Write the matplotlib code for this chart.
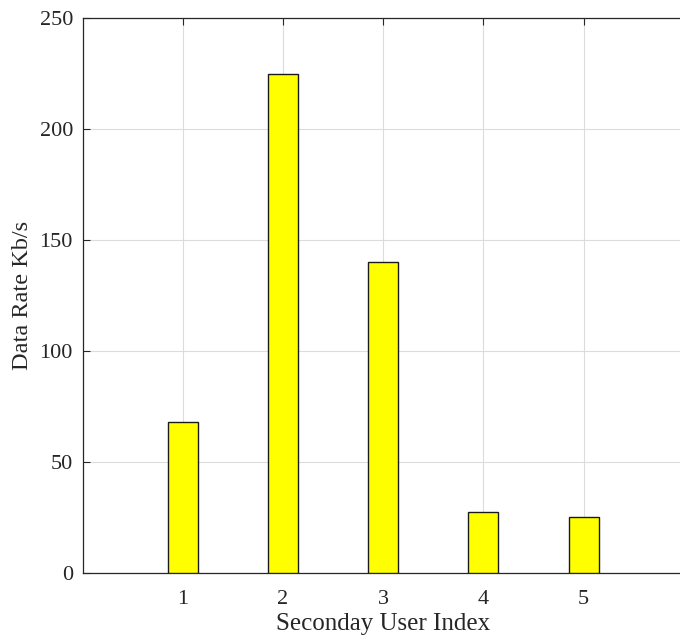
import matplotlib
matplotlib.use('Agg')
import matplotlib.pyplot as plt
import numpy as np

users = [1, 2, 3, 4, 5]
rates = [68, 225, 140, 27.5, 25]
yticks = [0, 50, 100, 150, 200, 250]

plt.rcParams['font.family'] = ['Liberation Serif', 'DejaVu Serif']

fig = plt.figure(figsize=(6.8, 6.39), dpi=100)
ax = fig.add_axes([0.1216, 0.1033, 0.884, 0.8685])

ax.bar(users, rates, width=0.3, color='#ffff00', edgecolor='#1a1a1a', linewidth=1.0, zorder=3)

ax.set_xlim(0, 6)
ax.set_ylim(0, 250)
ax.set_xticks(users)
ax.set_yticks(yticks)
ax.grid(True, color='#dcdcdc', linewidth=0.8, zorder=0)
ax.set_axisbelow(True)

ax.tick_params(direction='in', top=True, right=False, length=5, width=0.8,
               colors='#262626', labelsize=16)
ax.tick_params(axis='x', pad=12)
ax.tick_params(axis='y', pad=7)
for s in ax.spines.values():
    s.set_color('#262626')
    s.set_linewidth(0.9)

ax.set_xlabel('Seconday User Index', fontsize=18, color='#262626', labelpad=3)
ax.set_ylabel('Data Rate Kb/s', fontsize=17.5, color='#262626', labelpad=5)

fig.savefig('out.png', dpi=100)
